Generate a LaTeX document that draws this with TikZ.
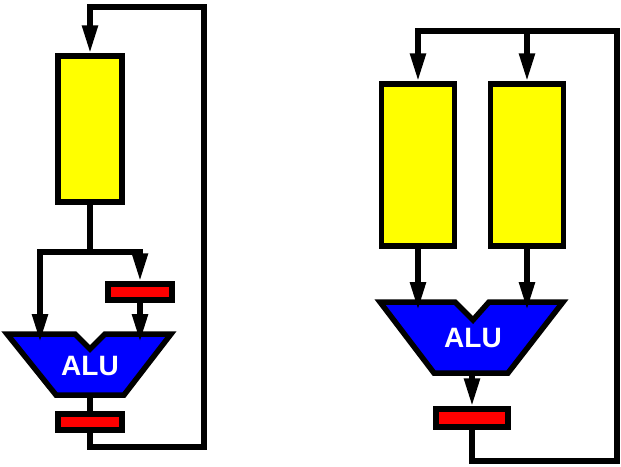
\documentclass[tikz,border=0pt]{standalone}
\usepackage{fontspec}
\setmainfont{Liberation Sans}
\usetikzlibrary{arrows.meta}
\definecolor{regyellow}{RGB}{255,255,0}
\definecolor{latchred}{RGB}{255,0,0}
\definecolor{alublue}{RGB}{0,0,255}
\begin{document}
\begin{tikzpicture}[x=1pt,y=-1pt,line width=5.5pt,
    reg/.style={draw,fill=regyellow,inner sep=0pt,minimum width=64pt},
    latch/.style={draw,fill=latchred,inner sep=0pt,minimum width=64pt,minimum height=16pt},
    alubox/.style={draw,fill=alublue,line join=miter},
    alutext/.style={text=white,font=\fontsize{28}{28}\selectfont\bfseries},
    arr/.style={-{Triangle[length=28pt,width=15pt]}}]
    \useasboundingbox (0,0) rectangle (621,466);
    % left: one register
    \node (regL) at (90,129) [reg,minimum height=146pt] {};
    \node (latchA) at (140,292) [latch] {};
    \node (latchB) at (90,422) [latch] {};
    \draw[alubox] (7,334) -- (75,334) -- (90,349) -- (105,334) -- (171,334)
        -- (124,395) -- (56,395) -- cycle;
    \node (aluL) at (90,366) [alutext] {ALU};
    \coordinate (splitL) at (90,252);
    \coordinate (inL1) at (40,342);
    \coordinate (inL2) at (140,342);
    \coordinate (outL) at (90,395);
    \coordinate (cornerL) at (204,447);
    \coordinate (topL) at (204,7);
    \draw (regL.south) -- (splitL);
    \draw[arr] (splitL) -| (inL1);
    \draw[arr] (splitL) -| (latchA.north);
    \draw[arr] (latchA.south) -- (inL2);
    \draw (outL) -- (latchB.north);
    \draw[arr] (latchB.south) |- (cornerL) -- (topL) -| (regL.north);
    % right: two registers
    \node (regR1) at (418,165) [reg,minimum width=73pt,minimum height=162pt] {};
    \node (regR2) at (527,165) [reg,minimum width=73pt,minimum height=162pt] {};
    \node (latchR) at (472,418) [latch,minimum width=72pt,minimum height=18pt] {};
    \draw[alubox] (380,302) -- (455,302) -- (473,320) -- (489,302) -- (563,302)
        -- (508,373) -- (434,373) -- cycle;
    \node (aluR) at (473,338) [alutext] {ALU};
    \coordinate (inR1) at (418,310);
    \coordinate (inR2) at (527,310);
    \coordinate (outR) at (472,373);
    \coordinate (splitR) at (527,31);
    \coordinate (cornerR) at (617,461);
    \coordinate (topR) at (617,31);
    \draw[arr] (regR1.south) -- (inR1);
    \draw[arr] (regR2.south) -- (inR2);
    \draw[arr] (outR) -- (latchR.north);
    \draw[arr] (latchR.south) |- (cornerR) -- (topR) -| (regR1.north);
    \draw[arr] (splitR) -- (regR2.north);
\end{tikzpicture}
\end{document}
